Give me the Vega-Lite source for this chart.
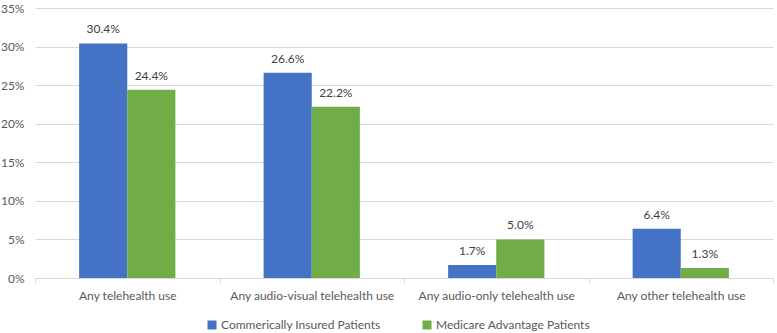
{
  "$schema": "https://vega.github.io/schema/vega-lite/v6.json",
  "width": 738,
  "height": 270,
  "autosize": "none",
  "padding": {"left": 35, "top": 8, "right": 4, "bottom": 55},
  "background": "white",
  "config": {
    "font": "Lato",
    "view": {"stroke": null},
    "axis": {"labelFont": "Lato", "labelColor": "#595959", "labelFontSize": 12}
  },
  "data": {
    "values": [
      {"use": "Any telehealth use", "group": "Commerically Insured Patients", "share": 0.304},
      {"use": "Any telehealth use", "group": "Medicare Advantage Patients", "share": 0.244},
      {"use": "Any audio-visual telehealth use", "group": "Commerically Insured Patients", "share": 0.266},
      {"use": "Any audio-visual telehealth use", "group": "Medicare Advantage Patients", "share": 0.222},
      {"use": "Any audio-only telehealth use", "group": "Commerically Insured Patients", "share": 0.017},
      {"use": "Any audio-only telehealth use", "group": "Medicare Advantage Patients", "share": 0.050},
      {"use": "Any other telehealth use", "group": "Commerically Insured Patients", "share": 0.064},
      {"use": "Any other telehealth use", "group": "Medicare Advantage Patients", "share": 0.013}
    ]
  },
  "encoding": {
    "x": {
      "field": "use",
      "type": "nominal",
      "sort": null,
      "title": null,
      "scale": {"paddingInner": 0, "paddingOuter": 0},
      "axis": {
        "labelAngle": 0,
        "tickBand": "extent",
        "tickSize": 5,
        "tickColor": "#d9d9d9",
        "domainColor": "#d9d9d9",
        "labelPadding": 7
      }
    },
    "xOffset": {
      "field": "group",
      "type": "nominal",
      "scale": {"paddingInner": 0, "paddingOuter": 0.917}
    },
    "y": {
      "field": "share",
      "type": "quantitative",
      "title": null,
      "scale": {"domain": [0, 0.35], "nice": false},
      "axis": {
        "values": [0, 0.05, 0.1, 0.15, 0.2, 0.25, 0.3, 0.35],
        "format": ".0%",
        "domain": false,
        "ticks": false,
        "gridColor": "#d9d9d9",
        "labelPadding": 11
      }
    }
  },
  "layer": [
    {
      "mark": {"type": "bar"},
      "encoding": {
        "color": {
          "field": "group",
          "type": "nominal",
          "title": null,
          "scale": {"range": ["#4472C4", "#70AD47"]},
          "legend": {
            "orient": "none",
            "direction": "horizontal",
            "legendX": 171,
            "legendY": 311,
            "symbolType": "square",
            "symbolSize": 81,
            "symbolStrokeWidth": 0,
            "labelFontSize": 12,
            "labelColor": "#595959",
            "labelFont": "Lato",
            "columnPadding": 40,
            "labelOffset": 3
          }
        }
      }
    },
    {
      "mark": {"type": "text", "baseline": "bottom", "dy": -7, "fontSize": 12, "color": "#404040"},
      "encoding": {
        "text": {"field": "share", "type": "quantitative", "format": ".1%"}
      }
    }
  ]
}
